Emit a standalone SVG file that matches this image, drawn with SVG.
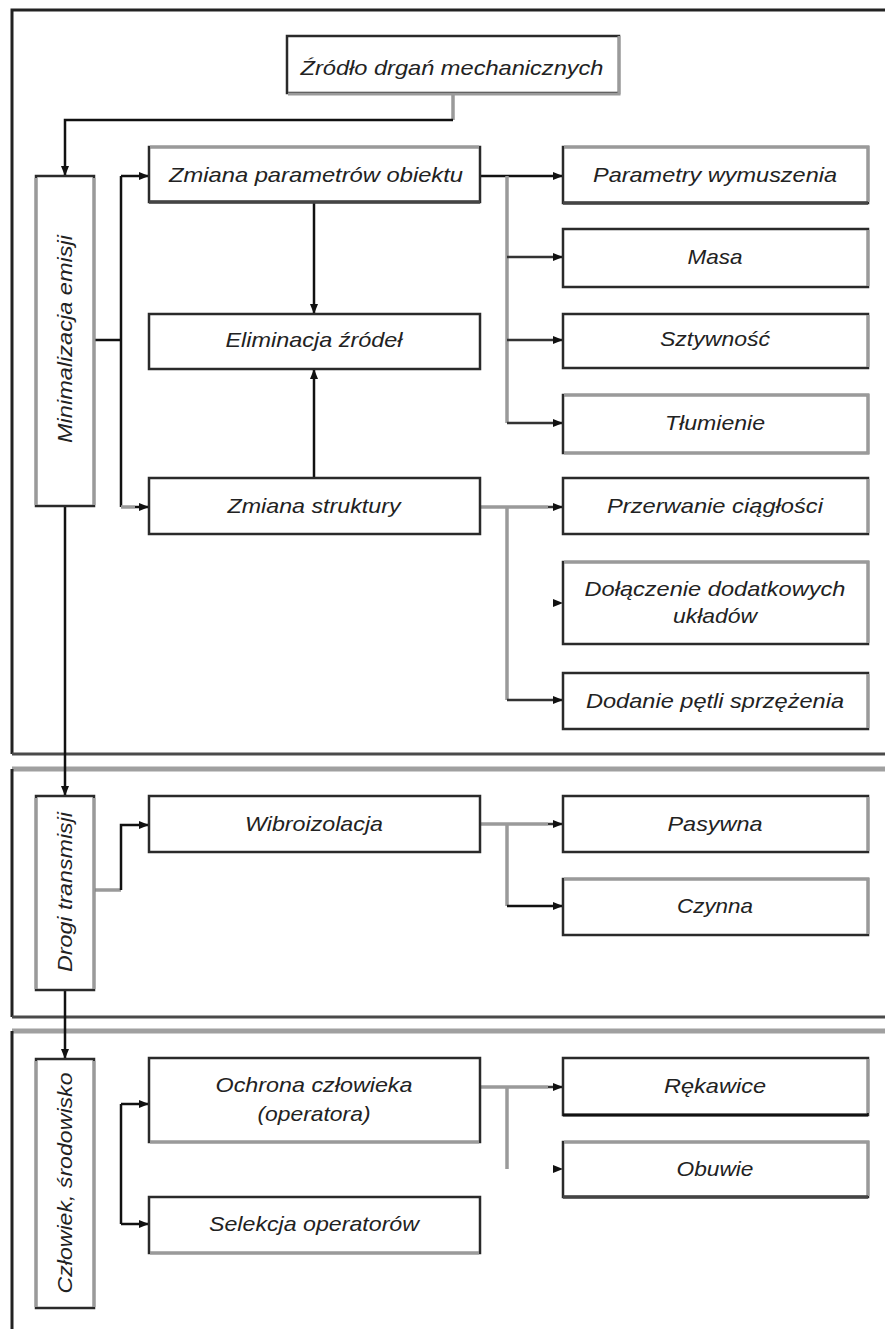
<svg xmlns="http://www.w3.org/2000/svg" width="885" height="1329" viewBox="0 0 885 1329">
<defs>
<style>
.box{fill:#fff;stroke:#2a2a2a;stroke-width:2.5}
.eg{stroke:#9a9a9a;stroke-width:3;fill:none}
.ed{stroke:#444;stroke-width:3.5;fill:none}
.t{font-family:"Liberation Sans",Arial,sans-serif;font-style:italic;font-size:21px;fill:#222;text-anchor:middle}
.blk{stroke:#111;stroke-width:2.5;fill:none}
.gry{stroke:#9a9a9a;stroke-width:3.5;fill:none}
.dg{stroke:#333;stroke-width:2.5;fill:none}
.head{fill:#111}
.frameD{stroke:#222;stroke-width:3;fill:none}
.frameM{stroke:#4a4a4a;stroke-width:3;fill:none}
.frameG{stroke:#a0a0a0;stroke-width:5;fill:none}
</style>
<marker id="ah" viewBox="0 0 10 8" refX="10" refY="4" markerWidth="10" markerHeight="8" markerUnits="userSpaceOnUse" orient="auto">
<path d="M0,0 L10,4 L0,8 z" fill="#111"/>
</marker>
</defs>
<rect width="885" height="1329" fill="#fff"/>

<g id="frames">
<path class="frameD" d="M12,754 V10 H885"/>
<path class="frameM" d="M12,754 H885"/>
<path class="frameG" d="M12,769 H885"/>
<path class="frameD" d="M12,769 V1017"/>
<path class="frameM" d="M12,1017 H885"/>
<path class="frameG" d="M12,1031 H885"/>
<path class="frameD" d="M12,1031 V1329"/>
</g>

<g id="connectors">
<path class="gry" d="M453,93 V120"/>
<path class="blk" d="M453,120 H65 V176" marker-end="url(#ah)"/>
<path class="blk" d="M94,340 H121"/>
<path class="blk" d="M121,176 V507"/>
<path class="blk" d="M121,176 H149" marker-end="url(#ah)"/>
<path class="gry" d="M121,507 H135"/>
<path class="blk" d="M135,507 H149" marker-end="url(#ah)"/>
<path class="blk" d="M314,202 V314" marker-end="url(#ah)"/>
<path class="blk" d="M314,478 V369" marker-end="url(#ah)"/>
<path class="blk" d="M480,176 H563" marker-end="url(#ah)"/>
<path class="gry" d="M507,176 V423"/>
<path class="dg" d="M507,257 H563" marker-end="url(#ah)"/>
<path class="dg" d="M507,340 H563" marker-end="url(#ah)"/>
<path class="dg" d="M507,423 H563" marker-end="url(#ah)"/>
<path class="gry" d="M480,507 H548"/>
<path class="dg" d="M548,507 H563" marker-end="url(#ah)"/>
<path class="gry" d="M507,507 V700"/>
<path class="dg" d="M507,700 H563" marker-end="url(#ah)"/>
<path class="head" d="M553,599 L563,603 L553,607 z"/>
<path class="blk" d="M65,506 V796" marker-end="url(#ah)"/>
<path class="gry" d="M94,890 H121"/>
<path class="blk" d="M121,890 V825 H149" marker-end="url(#ah)"/>
<path class="gry" d="M480,824 H548"/>
<path class="dg" d="M548,824 H563" marker-end="url(#ah)"/>
<path class="gry" d="M507,824 V906"/>
<path class="blk" d="M507,906 H563" marker-end="url(#ah)"/>
<path class="blk" d="M65,990 V1059" marker-end="url(#ah)"/>
<path class="blk" d="M121,1104 V1224"/>
<path class="blk" d="M121,1104 H149" marker-end="url(#ah)"/>
<path class="blk" d="M121,1224 H149" marker-end="url(#ah)"/>
<path class="gry" d="M480,1087 H548"/>
<path class="dg" d="M548,1087 H563" marker-end="url(#ah)"/>
<path class="gry" d="M507,1087 V1169"/>
<path class="head" d="M553,1165 L563,1169 L553,1173 z"/>
</g>

<g id="n-zrodlo">
<rect class="box" x="287" y="36" width="332" height="57"/>
<path class="eg" d="M619,36 V94 H288"/>
<text class="t" x="452" y="75" textLength="303" lengthAdjust="spacingAndGlyphs">Źródło drgań mechanicznych</text>
</g>

<g id="n-minimalizacja">
<rect class="box" x="36" y="176" width="58" height="330"/>
<path class="eg" d="M36,178 V505 M94,178 V505"/>
<text class="t" transform="translate(65,339) rotate(-90)" x="0" y="7" textLength="208" lengthAdjust="spacingAndGlyphs">Minimalizacja  emisji</text>
</g>

<g id="n-zmiana-param">
<rect class="box" x="149" y="147" width="331" height="55"/>
<path class="eg" d="M150,147 H479"/>
<path class="ed" d="M149,202 H480"/>
<text class="t" x="316" y="182" textLength="294" lengthAdjust="spacingAndGlyphs">Zmiana parametrów obiektu</text>
</g>

<g id="n-eliminacja">
<rect class="box" x="149" y="314" width="331" height="55"/>
<text class="t" x="314" y="347" textLength="177" lengthAdjust="spacingAndGlyphs">Eliminacja źródeł</text>
</g>

<g id="n-zmiana-struktury">
<rect class="box" x="149" y="478" width="331" height="56"/>
<text class="t" x="314" y="513" textLength="173" lengthAdjust="spacingAndGlyphs">Zmiana struktury</text>
</g>

<g id="n-parametry">
<rect class="box" x="563" y="147" width="305" height="56"/>
<path class="eg" d="M564,147 H868 V202"/>
<path class="ed" d="M563,203 H868"/>
<text class="t" x="715" y="182" textLength="244" lengthAdjust="spacingAndGlyphs">Parametry wymuszenia</text>
</g>

<g id="n-masa">
<rect class="box" x="563" y="229" width="305" height="58"/>
<path class="eg" d="M868,230 V286"/>
<text class="t" x="715" y="264" textLength="55" lengthAdjust="spacingAndGlyphs">Masa</text>
</g>

<g id="n-sztywnosc">
<rect class="box" x="563" y="314" width="305" height="54"/>
<path class="eg" d="M868,315 V367"/>
<text class="t" x="715" y="346" textLength="110" lengthAdjust="spacingAndGlyphs">Sztywność</text>
</g>

<g id="n-tlumienie">
<rect class="box" x="563" y="395" width="305" height="58"/>
<path class="eg" d="M564,395 H868 V453 H564"/>
<text class="t" x="715" y="430" textLength="100" lengthAdjust="spacingAndGlyphs">Tłumienie</text>
</g>

<g id="n-przerwanie">
<rect class="box" x="563" y="478" width="305" height="56"/>
<path class="eg" d="M868,479 V533"/>
<text class="t" x="715" y="513" textLength="216" lengthAdjust="spacingAndGlyphs">Przerwanie ciągłości</text>
</g>

<g id="n-dolaczenie">
<rect class="box" x="563" y="562" width="305" height="82"/>
<path class="eg" d="M564,562 H868 V643"/>
<text class="t" x="715" y="596" textLength="261" lengthAdjust="spacingAndGlyphs">Dołączenie dodatkowych</text>
<text class="t" x="715" y="623" textLength="84" lengthAdjust="spacingAndGlyphs">układów</text>
</g>

<g id="n-dodanie">
<rect class="box" x="563" y="673" width="305" height="56"/>
<path class="eg" d="M868,674 V728"/>
<text class="t" x="715" y="708" textLength="258" lengthAdjust="spacingAndGlyphs">Dodanie pętli sprzężenia</text>
</g>

<g id="n-drogi">
<rect class="box" x="36" y="796" width="58" height="194"/>
<path class="eg" d="M36,798 V989 M94,798 V989"/>
<text class="t" transform="translate(65,892) rotate(-90)" x="0" y="7" textLength="160" lengthAdjust="spacingAndGlyphs">Drogi transmisji</text>
</g>

<g id="n-wibroizolacja">
<rect class="box" x="149" y="796" width="331" height="56"/>
<text class="t" x="314" y="831" textLength="138" lengthAdjust="spacingAndGlyphs">Wibroizolacja</text>
</g>

<g id="n-pasywna">
<rect class="box" x="563" y="796" width="305" height="56"/>
<path class="eg" d="M868,797 V851"/>
<text class="t" x="715" y="831" textLength="95" lengthAdjust="spacingAndGlyphs">Pasywna</text>
</g>

<g id="n-czynna">
<rect class="box" x="563" y="879" width="305" height="56"/>
<path class="eg" d="M564,879 H868 V934"/>
<text class="t" x="715" y="913" textLength="76" lengthAdjust="spacingAndGlyphs">Czynna</text>
</g>

<g id="n-czlowiek">
<rect class="box" x="36" y="1059" width="58" height="249"/>
<path class="eg" d="M36,1061 V1307 M94,1061 V1307"/>
<text class="t" transform="translate(65,1183) rotate(-90)" x="0" y="7" textLength="221" lengthAdjust="spacingAndGlyphs">Człowiek,  środowisko</text>
</g>

<g id="n-ochrona">
<rect class="box" x="149" y="1058" width="331" height="84"/>
<path class="eg" d="M150,1142 H479"/>
<text class="t" x="314" y="1092" textLength="197" lengthAdjust="spacingAndGlyphs">Ochrona człowieka</text>
<text class="t" x="314" y="1121" textLength="113" lengthAdjust="spacingAndGlyphs">(operatora)</text>
</g>

<g id="n-selekcja">
<rect class="box" x="149" y="1197" width="331" height="56"/>
<path class="eg" d="M150,1253 H479"/>
<text class="t" x="314" y="1231" textLength="210" lengthAdjust="spacingAndGlyphs">Selekcja operatorów</text>
</g>

<g id="n-rekawice">
<rect class="box" x="563" y="1058" width="305" height="57"/>
<path class="eg" d="M868,1059 V1113"/>
<path class="blk" d="M563,1115 H868" style="stroke-width:3"/>
<text class="t" x="715" y="1093" textLength="102" lengthAdjust="spacingAndGlyphs">Rękawice</text>
</g>

<g id="n-obuwie">
<rect class="box" x="563" y="1142" width="305" height="55"/>
<path class="eg" d="M564,1142 H868 V1196"/>
<path class="ed" d="M563,1197 H868"/>
<text class="t" x="715" y="1176" textLength="77" lengthAdjust="spacingAndGlyphs">Obuwie</text>
</g>
</svg>
